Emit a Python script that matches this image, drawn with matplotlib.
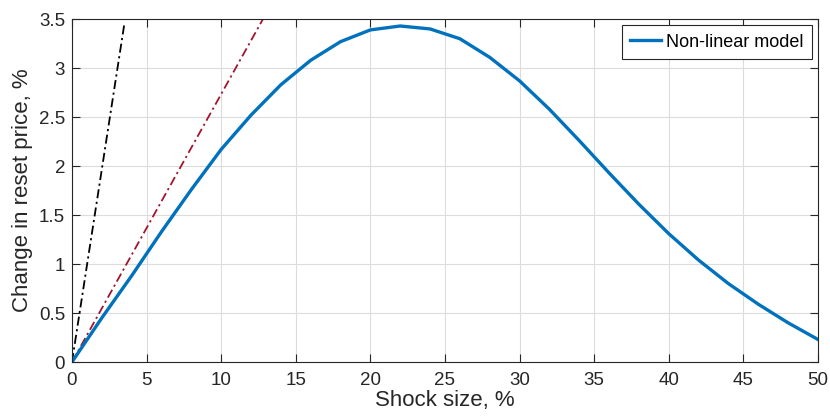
import matplotlib
matplotlib.use("Agg")
import matplotlib.pyplot as plt
import numpy as np

plt.rcParams['font.family'] = ['Liberation Sans', 'DejaVu Sans']

shock = [0, 2, 4, 6, 8, 10, 12, 14, 16, 18, 20, 22, 24, 26, 28, 30,
         32, 34, 36, 38, 40, 42, 44, 46, 48, 50]
nonlinear = [0, 0.45, 0.88, 1.33, 1.76, 2.17, 2.52, 2.83, 3.08, 3.27, 3.39,
             3.43, 3.40, 3.30, 3.11, 2.87, 2.58, 2.26, 1.93, 1.61, 1.31,
             1.04, 0.80, 0.59, 0.40, 0.23]
black_x = [0, 3.52]
black_y = [0, 3.46]
red_x = [0, 12.8]
red_y = [0, 3.5]

xticks = [0, 5, 10, 15, 20, 25, 30, 35, 40, 45, 50]
yticks = [0, 0.5, 1, 1.5, 2, 2.5, 3, 3.5]
yticklabels = ['0', '0.5', '1', '1.5', '2', '2.5', '3', '3.5']

fig = plt.figure(figsize=(8.3, 4.16), dpi=100)
ax = fig.add_axes([0.0867, 0.1298, 0.8988, 0.8242])

ax.plot(black_x, black_y, color='black', linestyle=(0, (5, 2, 1.2, 2)), linewidth=1.3)
ax.plot(red_x, red_y, color='#A2142F', linestyle=(0, (5, 2, 1.2, 2)), linewidth=1.3)
ln, = ax.plot(shock, nonlinear, color='#0072BD', linewidth=2.4, label='Non-linear model')

ax.set_xlim(0, 50)
ax.set_ylim(0, 3.5)
ax.set_xticks(xticks)
ax.set_yticks(yticks)
ax.set_yticklabels(yticklabels)
ax.grid(True, color='#DCDCDC', linewidth=0.8)
ax.set_axisbelow(True)
for s in ax.spines.values():
    s.set_color('#262626')
    s.set_linewidth(0.8)
ax.tick_params(direction='in', top=True, right=True, length=6, width=0.8,
               colors='#262626', labelsize=13.5, labelcolor='#262626', pad=5)
ax.tick_params(axis='x', pad=7)
ax.set_xlabel('Shock size, %', fontsize=16, color='#262626', labelpad=1)
ax.set_ylabel('Change in reset price, %', fontsize=16, color='#262626', labelpad=4)

leg = ax.legend(handles=[ln], loc='upper right', fontsize=13, fancybox=False,
                framealpha=1, edgecolor='#262626', borderpad=0.45,
                handlelength=1.7, handletextpad=0.3, borderaxespad=0.35)
leg.get_frame().set_linewidth(0.8)

fig.savefig('out.png', dpi=100)
